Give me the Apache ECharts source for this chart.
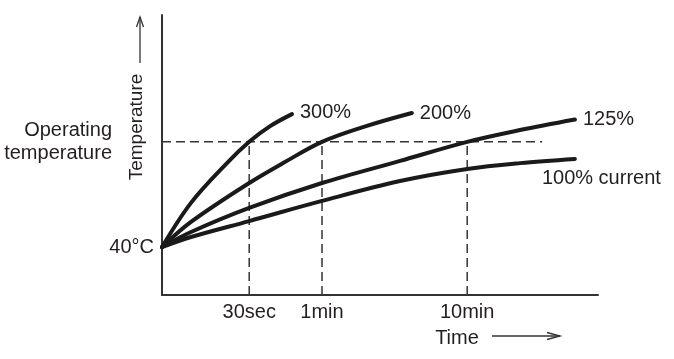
<!DOCTYPE html>
<html>
<head>
<meta charset="utf-8">
<script src="https://cdn.jsdelivr.net/npm/echarts@6/dist/echarts.min.js"></script>
<style>html,body{margin:0;padding:0;background:#fff;}#c{width:674px;height:359px;}</style>
</head>
<body>
<div id="c"></div>
<script>
// Schematic scale: time 0..100 (arbitrary), temperature 0..100 (arbitrary)
var seriesNames = ['300%', '200%', '125%', '100% current'];
var x300 = [0, 6.65, 14.9, 20, 24.8, 29.8];
var y300 = [17.1, 32.9, 47.1, 54.7, 60.3, 64.6];
var x200 = [0, 6.65, 20, 28.2, 36.7, 47, 57.3];
var y200 = [17.1, 26.1, 40, 47.5, 54.7, 60.4, 65];
var x125 = [0, 6.65, 20, 36.7, 54.6, 70, 82.1, 94.7];
var y125 = [17.1, 22.5, 31.1, 40.0, 47.9, 54.7, 58.9, 62.7];
var x100 = [0, 6.65, 20, 36.7, 54.6, 70, 82.1, 94.7];
var y100 = [17.1, 20.7, 26.4, 33.6, 40.7, 45, 47.1, 48.6];

var xTickValues = [20, 36.7, 70];
var xTickLabels = ['30sec', '1min', '10min'];
var startTemp = 17.1;
var startTempLabel = '40°C';
var operatingTemp = 54.7;
var operatingLabel = 'Operating\ntemperature';
var operatingLineEnd = 87.2;

var FONT = 'Liberation Sans, Arial, Helvetica, sans-serif';
var TXT = '#231f20';
var FS = 20;

function zip(xs, ys) { return xs.map(function (x, i) { return [x, ys[i]]; }); }

var curveData = [zip(x300, y300), zip(x200, y200), zip(x125, y125), zip(x100, y100)];
var labelCfg = [
  { distance: 6, offset: [2, -2] },
  { distance: 8, offset: [0, 0] },
  { distance: 8, offset: [0, 0] },
  { distance: 6, offset: [-39, 20] }
];

var series = curveData.map(function (d, i) {
  return {
    name: seriesNames[i], type: 'line', data: d, smooth: 0.35,
    showSymbol: false, silent: true,
    lineStyle: { color: '#1a1a1a', width: 4, cap: 'round' },
    endLabel: {
      show: true, formatter: seriesNames[i], color: TXT, fontSize: FS, fontFamily: FONT,
      distance: labelCfg[i].distance, offset: labelCfg[i].offset
    },
    z: 3
  };
});

// dashed guide lines
var guides = [[[0, operatingTemp], [operatingLineEnd, operatingTemp]]];
xTickValues.forEach(function (v) { guides.push([[v, 0], [v, operatingTemp]]); });
guides.forEach(function (g) {
  series.push({
    type: 'line', data: g, showSymbol: false, silent: true,
    lineStyle: { color: '#333', width: 1.5, type: [9, 5] }, z: 2
  });
});

var chart = echarts.init(document.getElementById('c'));
chart.setOption({
  animation: false,
  grid: { left: 162, top: 15, width: 436, height: 280 },
  xAxis: {
    type: 'value', min: 0, max: 100,
    axisLine: { show: true, lineStyle: { color: '#333', width: 2 } },
    axisTick: { show: false },
    splitLine: { show: false },
    axisLabel: {
      customValues: xTickValues,
      formatter: function (v) { var i = xTickValues.indexOf(v); return i >= 0 ? xTickLabels[i] : ''; },
      color: TXT, fontSize: FS, fontFamily: FONT, margin: 7
    }
  },
  yAxis: [{
    type: 'value', min: 0, max: 100,
    axisLine: { show: true, lineStyle: { color: '#333', width: 2 } },
    axisTick: { show: false },
    splitLine: { show: false },
    axisLabel: {
      customValues: [startTemp],
      formatter: function () { return startTempLabel; },
      color: TXT, fontSize: FS, fontFamily: FONT, margin: 8
    }
  }, {
    type: 'value', min: 0, max: 100, position: 'left',
    axisLine: { show: false }, axisTick: { show: false }, splitLine: { show: false },
    axisLabel: {
      customValues: [operatingTemp],
      formatter: function () { return operatingLabel; },
      color: TXT, fontSize: FS, fontFamily: FONT, margin: 50, lineHeight: 23,
      align: 'right', padding: [20, 0, 0, 0]
    }
  }],
  graphic: [
    { type: 'text', x: 137, y: 127, rotation: Math.PI / 2,
      style: { text: 'Temperature', fill: TXT, font: '19px ' + FONT, align: 'center', verticalAlign: 'middle' } },
    { type: 'line', shape: { x1: 140, y1: 63, x2: 140, y2: 17 }, style: { stroke: '#333', lineWidth: 1.3 } },
    { type: 'polyline', shape: { points: [[136.5, 27], [140, 17], [143.5, 27]] }, style: { stroke: '#333', lineWidth: 1.3, fill: null } },
    { type: 'text', x: 457, y: 338,
      style: { text: 'Time', fill: TXT, font: FS + 'px ' + FONT, align: 'center', verticalAlign: 'middle' } },
    { type: 'line', shape: { x1: 492, y1: 336, x2: 560, y2: 336 }, style: { stroke: '#333', lineWidth: 1.3 } },
    { type: 'polyline', shape: { points: [[547, 332.5], [560, 336], [547, 339.5]] }, style: { stroke: '#333', lineWidth: 1.3, fill: null } }
  ],
  series: series
});
</script>
</body>
</html>
